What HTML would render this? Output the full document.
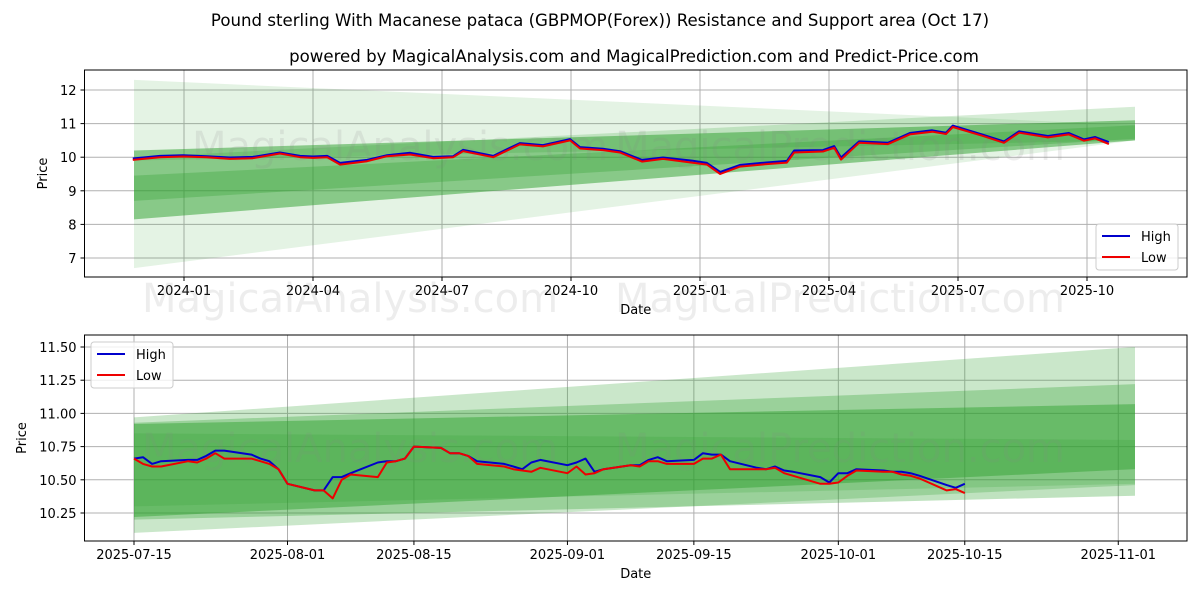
<!DOCTYPE html>
<html><head><meta charset="utf-8"><style>
body{margin:0;background:#fff;}
svg{display:block;font-family:"DejaVu Sans","Liberation Sans",sans-serif;}
</style></head><body>
<svg id="fig" width="1200" height="600" viewBox="0 0 1200 600">
<text x="600" y="26" font-size="16.6" text-anchor="middle">Pound sterling With Macanese pataca (GBPMOP(Forex)) Resistance and Support area (Oct 17)</text>
<text x="634" y="62" font-size="16.6" text-anchor="middle">powered by MagicalAnalysis.com and MagicalPrediction.com and Predict-Price.com</text>
<g id="top"></g>
<g id="bot"></g>
</svg>
<script>
// ---- top chart data ----
const topMonths=[-1.19,-0.56,-0.02,0.53,1.07,1.60,2.23,2.70,3.0,3.33,3.63,4.26,4.72,5.26,5.79,6.26,6.49,7.19,7.81,8.35,8.98,9.21,9.74,10.14,10.65,11.14,11.81,12.16,12.47,12.93,13.51,14.02,14.19,14.86,15.12,15.28,15.70,16.37,16.88,17.40,17.72,17.88,18.56,19.07,19.42,20.09,20.58,20.93,21.19,21.51];
const topLow=[9.92,10.0,10.02,10.0,9.95,9.97,10.11,10.0,9.98,10.0,9.78,9.88,10.03,10.08,9.97,10.0,10.18,10.0,10.38,10.32,10.5,10.26,10.21,10.14,9.87,9.95,9.84,9.78,9.5,9.72,9.79,9.84,10.14,10.17,10.28,9.93,10.43,10.39,10.68,10.76,10.69,10.9,10.64,10.43,10.73,10.59,10.68,10.49,10.56,10.39];
const topHigh=[9.96,10.04,10.06,10.03,9.99,10.01,10.14,10.04,10.02,10.04,9.83,9.92,10.06,10.13,10.01,10.03,10.22,10.04,10.42,10.36,10.54,10.3,10.25,10.18,9.92,9.99,9.9,9.83,9.56,9.77,9.84,9.89,10.2,10.21,10.33,9.99,10.47,10.43,10.72,10.8,10.73,10.94,10.68,10.47,10.77,10.63,10.72,10.53,10.6,10.45];
const topTickLabels=["2024-01","2024-04","2024-07","2024-10","2025-01","2025-04","2025-07","2025-10"];
const topTickMonths=[0,3,6,9,12,15,18,21];
const topYTicks=[7,8,9,10,11,12];
const topBandUpperL=[12.3,10.2,9.45,10.0];
const topBandUpperR=[10.95,11.1,10.95,11.5];
const topBandLowerL=[6.7,8.15,8.7,9.9];
const topBandLowerR=[10.5,10.5,10.55,10.5];
const topBandAlpha=[0.13,0.5,0.3,0.2];
// ---- bottom chart data ----
const botHigh=[10.66,10.67,10.62,10.64,10.65,10.65,10.68,10.72,10.72,10.69,10.66,10.64,10.58,10.47,10.42,10.42,10.52,10.52,10.55,10.63,10.64,10.64,10.66,10.75,10.74,10.70,10.70,10.68,10.64,10.62,10.60,10.58,10.63,10.65,10.61,10.63,10.66,10.56,10.58,10.61,10.61,10.65,10.67,10.64,10.65,10.70,10.69,10.69,10.64,10.59,10.58,10.60,10.57,10.56,10.52,10.48,10.55,10.55,10.58,10.57,10.56,10.56,10.55,10.53,10.46,10.44,10.47];
const botLow=[10.66,10.62,10.60,10.60,10.64,10.63,10.66,10.70,10.66,10.66,10.64,10.62,10.58,10.47,10.42,10.42,10.36,10.50,10.54,10.52,10.63,10.64,10.66,10.75,10.74,10.70,10.70,10.68,10.62,10.60,10.58,10.57,10.56,10.59,10.55,10.60,10.54,10.55,10.58,10.61,10.60,10.64,10.64,10.62,10.62,10.66,10.66,10.69,10.58,10.58,10.58,10.59,10.55,10.53,10.47,10.47,10.48,10.53,10.57,10.56,10.56,10.54,10.53,10.51,10.42,10.43,10.40];
const botTickLabels=["2025-07-15","2025-08-01","2025-08-15","2025-09-01","2025-09-15","2025-10-01","2025-10-15","2025-11-01"];
const botTickDays=[0,17,31,48,62,78,92,109];
const botYTicks=[10.25,10.5,10.75,11.0,11.25,11.5];
const botYLabels=["10.25","10.50","10.75","11.00","11.25","11.50"];
const botBandUpperL=[10.97,10.93,10.92,10.85];
const botBandUpperR=[11.50,11.22,11.07,10.80];
const botBandLowerL=[10.10,10.20,10.22,10.30];
const botBandLowerR=[10.46,10.38,10.58,10.47];
const botBandAlpha=[0.25,0.3,0.45,0.2];

const NS="http://www.w3.org/2000/svg";
function mk(p,t,a){const e=document.createElementNS(NS,t);for(const k in a)e.setAttribute(k,a[k]);p.appendChild(e);return e;}

function drawPanel(g,cfg){
  const {L,R,T,B}=cfg;
  cfg.xt.forEach((v,i)=>{const x=cfg.sx(v);
    const gl=mk(g,'line',{x1:x,x2:x,y1:T,y2:B,stroke:'#b0b0b0','stroke-width':1});
    
    
    mk(g,'line',{x1:x,x2:x,y1:B,y2:B+4,stroke:'#000'});
    const t=mk(g,'text',{x:x,y:B+18,'font-size':13,'text-anchor':'middle'});t.textContent=cfg.xl[i];
    
    
  });
  cfg.yt.forEach((v,i)=>{const y=cfg.sy(v);
    const gl=mk(g,'line',{x1:L,x2:R,y1:y,y2:y,stroke:'#b0b0b0','stroke-width':1});
    
    
    mk(g,'line',{x1:L-4,x2:L,y1:y,y2:y,stroke:'#000'});
    const t=mk(g,'text',{x:L-8,y:y+5,'font-size':13,'text-anchor':'end'});t.textContent=cfg.yl[i];
    
    
  });
  cfg.bands.UL.forEach((u,i)=>{
    const x0=cfg.bx0,x1=cfg.bx1;
    const pts=[[x0,cfg.sy(u)],[x1,cfg.sy(cfg.bands.UR[i])],[x1,cfg.sy(cfg.bands.LR[i])],[x0,cfg.sy(cfg.bands.LL[i])]];
    const p=mk(g,'polygon',{points:pts.map(q=>q.join(',')).join(' '),fill:'#2ca02c','fill-opacity':cfg.bands.A[i]});
    
    
  });
  cfg.wm.forEach(w=>{const t=mk(g,'text',{x:w[0],y:w[1],'font-size':40,fill:'#888','fill-opacity':0.15,'text-anchor':'middle'});t.textContent=w[2];
    
    });
  [[cfg.hi,'#0000cc','high-line'],[cfg.lo,'#ee0000','low-line']].forEach(s=>{
    const d=s[0].map((v,i)=>(i?'L':'M')+cfg.sx(cfg.xs[i]).toFixed(1)+','+cfg.sy(v).toFixed(1)).join('');
    const p=mk(g,'path',{d:d,fill:'none',stroke:s[1],'stroke-width':2,'stroke-linejoin':'round'});
    
    
  });
  const fr=mk(g,'rect',{x:L,y:T,width:R-L,height:B-T,fill:'none',stroke:'#000','stroke-width':1});
  
  
  const xl=mk(g,'text',{x:(L+R)/2,y:B+37,'font-size':13,'text-anchor':'middle'});xl.textContent='Date';
  
  
  const yl=mk(g,'text',{x:0,y:0,'font-size':13,'text-anchor':'middle',transform:`translate(${cfg.ylx},${(T+B)/2}) rotate(-90)`});yl.textContent='Price';
  
  
  const lg=mk(g,'g',{});
  
  
  mk(lg,'rect',{x:cfg.lgx,y:cfg.lgy,width:82,height:46,rx:3,fill:'#fff','fill-opacity':0.8,stroke:'#ccc'});
  [['High','#0000cc'],['Low','#ee0000']].forEach((e,i)=>{
    const y=cfg.lgy+12+i*21;
    const ln=mk(lg,'line',{x1:cfg.lgx+6,x2:cfg.lgx+34,y1:y,y2:y,stroke:e[1],'stroke-width':2});
    
    
    const t=mk(lg,'text',{x:cfg.lgx+45,y:y+5,'font-size':13});t.textContent=e[0];
    
    
  });
}

drawPanel(document.getElementById('top'),{L:84.5,R:1187,T:70,B:277,
  sx:m=>184+m*43, sy:v=>90+(12-v)*33.6,
  xt:topTickMonths,xl:topTickLabels,yt:topYTicks,yl:topYTicks.map(String),
  bx0:134,bx1:1135,
  bands:{UL:topBandUpperL,UR:topBandUpperR,LL:topBandLowerL,LR:topBandLowerR,A:topBandAlpha},
  wm:[[400,160,'MagicalAnalysis.com'],[840,160,'MagicalPrediction.com'],[350,312,'MagicalAnalysis.com'],[840,312,'MagicalPrediction.com']],
  xs:topMonths,hi:topHigh,lo:topLow,ylx:47,lgx:1096,lgy:224});

const botDays=[];
{let d=new Date(Date.UTC(2025,6,15));let off=0;while(botDays.length<botHigh.length){const wd=d.getUTCDay();if(wd!==0&&wd!==6)botDays.push(off);d=new Date(d.getTime()+86400000);off++;}}
drawPanel(document.getElementById('bot'),{L:84.5,R:1187,T:335,B:541,
  sx:d=>134+d*9.03, sy:v=>347+(11.5-v)*132.8,
  xt:botTickDays,xl:botTickLabels,yt:botYTicks,yl:botYLabels,
  bx0:134,bx1:1135,
  bands:{UL:botBandUpperL,UR:botBandUpperR,LL:botBandLowerL,LR:botBandLowerR,A:botBandAlpha},
  wm:[[350,462,'MagicalAnalysis.com'],[840,462,'MagicalPrediction.com']],
  xs:botDays,hi:botHigh,lo:botLow,ylx:26,lgx:91,lgy:342});
</script>
</body></html>
